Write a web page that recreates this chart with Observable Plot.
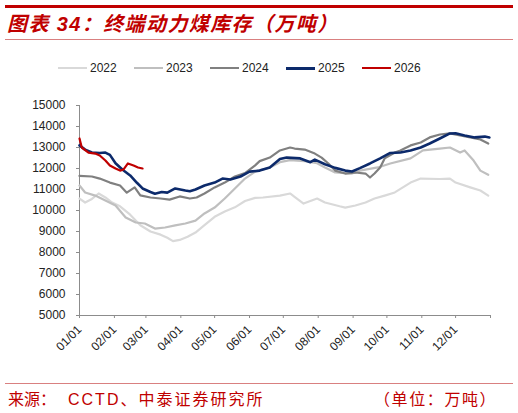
<!DOCTYPE html>
<html><head><meta charset="utf-8">
<script src="https://cdn.jsdelivr.net/npm/d3@7"></script>
<script src="https://cdn.jsdelivr.net/npm/@observablehq/plot@0.6"></script>
<style>
html,body{margin:0;padding:0;background:#fff;}
#wrap{position:relative;width:518px;height:413px;overflow:hidden;font-family:"Liberation Sans",Arial,sans-serif;}
.topbar{position:absolute;left:5px;top:5px;width:508px;height:3px;background:#c00000;}
.title{position:absolute;left:7px;top:12px;font-size:20px;line-height:24px;font-weight:bold;font-style:italic;color:#c00000;font-family:"Liberation Sans","Noto Sans CJK SC",sans-serif;white-space:nowrap;letter-spacing:1.4px;}
.titleline{position:absolute;left:5px;top:39px;width:508px;height:1px;background:#d98080;}
#legend{position:absolute;left:0;top:61px;height:14px;width:518px;}
.li{position:absolute;top:0;height:14px;}
.li .sw{position:absolute;left:0;top:6px;width:29px;height:2px;}
.li .tx{position:absolute;left:32px;top:0;font-size:12px;line-height:14px;color:#222;}
#chart{position:absolute;left:0;top:80px;}
.footline{position:absolute;left:5px;top:383px;width:508px;height:1px;background:#d98080;}
.src,.unit{position:absolute;top:390px;font-size:16px;line-height:20px;color:#c00000;font-family:"Liberation Sans","Noto Sans CJK SC",sans-serif;white-space:nowrap;}
</style></head><body>
<div id="wrap">
 <div class="topbar"></div>
 <div class="title">图表 34：终端动力煤库存（万吨）</div>
 <div class="titleline"></div>
 <div id="legend"></div>
 <div id="chart"></div>
 <div class="footline"></div>
 <div class="src" style="left:8px">来源：</div>
 <div class="src" style="left:68px;letter-spacing:2px">CCTD、中泰证券研究所</div>
 <div class="unit" style="left:374px;letter-spacing:1.6px">（单位：万吨）</div>
</div>
<script>
const years = ["2022","2023","2024","2025","2026"];
const colors = ["#d9d9d9","#bfbfbf","#808080","#0c2a6b","#c00000"];
const widths = [2.2,2.2,2.2,2.6,2.2];
const xLabels = ["01/01","02/01","03/01","04/01","05/01","06/01","07/01","08/01","09/01","10/01","11/01","12/01"];
const yTicks = [5000,6000,7000,8000,9000,10000,11000,12000,13000,14000,15000];

const dates2022 = ["01-01","01-06","01-12","01-18","01-24","01-30","02-06","02-15","02-24","03-05","03-14","03-20","03-25","03-31","04-07","04-14","04-22","05-01","05-10","05-19","05-28","06-06","06-13","06-28","07-07","07-11","07-19","07-31","08-07","08-20","08-25","09-03","09-12","09-20","09-29","10-08","10-22","10-31","11-17","11-26","12-01","12-14","12-23","12-30"];
const values2022 = [10570,10380,10550,10810,10620,10380,10200,9800,9300,9000,8850,8700,8540,8600,8750,8950,9300,9700,9950,10150,10450,10600,10620,10710,10810,10650,10330,10570,10380,10200,10140,10240,10380,10570,10710,10860,11330,11520,11500,11520,11330,11100,10950,10710];

const dates2023 = ["01-01","01-06","01-15","01-24","02-02","02-11","02-20","02-28","03-09","03-18","03-27","04-05","04-14","04-22","05-01","05-10","05-19","05-28","06-06","06-19","06-28","07-07","07-20","07-31","08-07","08-16","08-31","09-07","09-23","10-04","10-22","11-02","11-17","11-26","12-05","12-09","12-17","12-23","12-30"];
const values2023 = [11190,10860,10710,10480,10240,9670,9430,9380,9140,9190,9290,9380,9520,9860,10140,10570,11050,11520,11850,12050,12300,12400,12350,12250,12050,11810,11760,11900,12050,12240,12480,12860,12950,13000,12760,12860,12380,11900,11700];

const dates2024 = ["01-01","01-12","01-19","01-28","02-06","02-12","02-19","02-24","03-05","03-14","03-22","03-31","04-09","04-15","04-22","05-01","05-10","05-19","05-28","06-06","06-10","06-19","06-28","07-07","07-11","07-20","07-29","08-04","08-10","08-16","08-25","09-03","09-12","09-16","09-20","09-25","09-29","10-08","10-13","10-22","10-31","11-08","11-17","11-26","12-05","12-14","12-23","12-30"];
const values2024 = [11650,11620,11520,11330,11190,10850,11100,10720,10620,10570,10520,10670,10570,10620,10810,11100,11330,11620,11780,12150,12350,12520,12860,13000,12950,12900,12710,12520,12240,11900,11760,11810,11760,11570,11760,12050,12480,12760,12860,13100,13240,13480,13620,13670,13570,13480,13380,13190];

const dates2025 = ["01-01","01-06","01-12","01-19","01-24","01-28","02-02","02-08","02-15","02-21","02-26","03-05","03-09","03-15","03-20","03-27","04-05","04-09","04-14","04-22","05-01","05-08","05-15","05-24","06-01","06-10","06-19","06-28","07-04","07-16","07-25","07-29","08-07","08-16","08-25","08-31","09-07","09-16","09-25","10-04","10-13","10-22","10-31","11-08","11-17","11-26","12-01","12-09","12-18","12-27","12-31"];
const values2025 = [13100,12900,12760,12740,12760,12650,12250,11950,11670,11320,11050,10880,10800,10880,10850,11050,10950,10920,11000,11190,11330,11520,11480,11620,11850,11900,12050,12450,12520,12480,12300,12420,12200,12030,11900,11860,12020,12240,12480,12740,12760,12860,13000,13190,13430,13670,13680,13570,13480,13520,13480];

const dates2026 = ["01-01","01-03","01-09","01-15","01-19","01-24","01-28","02-02","02-06","02-09","02-13","02-18","02-22","02-26"];
const values2026 = [13430,13000,12760,12710,12620,12380,12140,12000,11900,11950,12240,12140,12050,12000];

const seriesDates = [dates2022,dates2023,dates2024,dates2025,dates2026];
const seriesValues = [values2022,values2023,values2024,values2025,values2026];

const toDate = s => new Date(Date.UTC(2001, +s.slice(0,2)-1, +s.slice(3)));
const tables = years.map((y, k) => seriesDates[k].map((d, i) => ({year: y, date: toDate(d), value: seriesValues[k][i]})));

// legend
const leg = document.getElementById("legend");
years.forEach((y, k) => {
  const it = document.createElement("div");
  it.className = "li";
  it.style.left = (58 + k*76) + "px";
  it.innerHTML = `<div class="sw" style="background:${colors[k]};height:${k===3?2.6:2.2}px"></div><div class="tx">${y}</div>`;
  leg.appendChild(it);
});

const monthTicks = d3.range(13).map(m => new Date(Date.UTC(2001, m, 1)));
const axisColor = "#8c8c8c";
const chart = Plot.plot({
  width: 518, height: 300,
  marginLeft: 79, marginRight: 28, marginTop: 25, marginBottom: 65,
  style: {fontFamily: "'Liberation Sans', Arial, sans-serif", fontSize: "12px", color: "#222", background: "transparent", overflow: "visible"},
  x: {type: "utc", domain: [monthTicks[0], monthTicks[12]]},
  y: {domain: [5000, 15000]},
  marks: [
    Plot.ruleY([5000], {stroke: axisColor}),
    Plot.ruleX([monthTicks[0]], {stroke: axisColor}),
    Plot.axisY({ticks: yTicks, tickSize: 3, tickPadding: 11, stroke: axisColor, fontSize: 12, label: null, tickFormat: d => String(d)}),
    Plot.axisX({ticks: monthTicks, tickSize: 3, tickPadding: 9, tickRotate: -45, stroke: axisColor, fontSize: 12, label: null,
      tickFormat: d => d.getUTCFullYear() === 2001 ? xLabels[d.getUTCMonth()] : ""}),
    ...tables.map((t, k) => Plot.line(t, {x: "date", y: "value", stroke: colors[k], strokeWidth: widths[k]}))
  ]
});
document.getElementById("chart").appendChild(chart);
</script>
</body></html>
